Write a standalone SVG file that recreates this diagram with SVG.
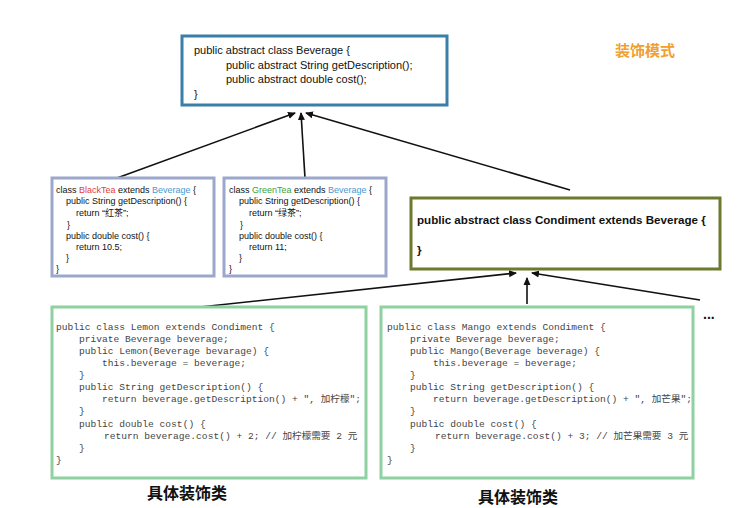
<svg xmlns="http://www.w3.org/2000/svg" width="752" height="508" viewBox="0 0 752 508">
<style>
.s{font-family:"Liberation Sans","Noto Sans CJK SC",sans-serif;fill:#111}
.m{font-family:"Liberation Mono","Noto Sans CJK SC",monospace;font-size:9.6px;fill:#444}
.b{fill:#fff;stroke-width:3}
.c{stroke:#111;stroke-width:1.6;fill:none;marker-end:url(#a)}
</style>
<defs><marker id="a" markerWidth="8" markerHeight="8" refX="7" refY="4" orient="auto" markerUnits="userSpaceOnUse"><path d="M0,0.5 L8,4 L0,7.5 Z" fill="#111"/></marker></defs>
<rect width="752" height="508" fill="#fff"/>
<g id="connectors">
<line class="c" x1="117" y1="178" x2="295" y2="113"/>
<line class="c" x1="305" y1="178" x2="301" y2="113"/>
<line class="c" x1="570" y1="190" x2="306" y2="113"/>
<line class="c" x1="200" y1="307" x2="516" y2="273"/>
<line class="c" x1="527" y1="304" x2="527" y2="278"/>
<line class="c" x1="700" y1="300" x2="532" y2="273"/>
</g>
<g id="beverage">
<rect class="b" x="182" y="36" width="265" height="69" stroke="#3a7fa8"/>
<text class="s" font-size="11"><tspan x="194" y="54">public abstract class Beverage {</tspan><tspan x="226" y="69">public abstract String getDescription();</tspan><tspan x="226" y="83">public abstract double cost();</tspan><tspan x="194" y="98">}</tspan></text>
</g>
<text id="title" x="615" y="56" font-size="15" font-weight="bold" font-family="Liberation Sans,Noto Sans CJK SC,sans-serif" fill="#f0a030">装饰模式</text>
<g id="blacktea">
<rect class="b" x="52" y="178" width="162" height="98" stroke="#9ba8cc"/>
<text class="s" font-size="9"><tspan x="56" y="193">class <tspan fill="#e04040">BlackTea</tspan> extends <tspan fill="#4a9ad0">Beverage</tspan> {</tspan><tspan x="66" y="204">public String getDescription() {</tspan><tspan x="76" y="216">return “红茶”;</tspan><tspan x="67" y="228">}</tspan><tspan x="66" y="239">public double cost() {</tspan><tspan x="76" y="250">return 10.5;</tspan><tspan x="66" y="261">}</tspan><tspan x="56" y="272">}</tspan></text>
</g>
<g id="greentea">
<rect class="b" x="224" y="178" width="162" height="98" stroke="#9ba8cc"/>
<text class="s" font-size="9"><tspan x="229" y="193">class <tspan fill="#40a040">GreenTea</tspan> extends <tspan fill="#4a9ad0">Beverage</tspan> {</tspan><tspan x="239" y="204">public String getDescription() {</tspan><tspan x="249" y="216">return “绿茶”;</tspan><tspan x="240" y="228">}</tspan><tspan x="239" y="239">public double cost() {</tspan><tspan x="249" y="250">return 11;</tspan><tspan x="239" y="261">}</tspan><tspan x="229" y="272">}</tspan></text>
</g>
<g id="condiment">
<rect class="b" x="411" y="198" width="309" height="71" stroke="#6b7a2e"/>
<text class="s" font-size="11.6" font-weight="bold"><tspan x="417" y="224">public abstract class Condiment extends Beverage {</tspan><tspan x="417" y="254">}</tspan></text>
</g>
<g id="lemon">
<rect class="b" x="52" y="307" width="314" height="171" stroke="#8fd1a0"/>
<text class="m"><tspan x="56" y="330">public class Lemon extends Condiment {</tspan><tspan x="79" y="342">private Beverage beverage;</tspan><tspan x="79" y="354">public Lemon(Beverage bevarage) {</tspan><tspan x="102" y="366">this.beverage = beverage;</tspan><tspan x="79" y="378">}</tspan><tspan x="79" y="390">public String getDescription() {</tspan><tspan x="102" y="402">return beverage.getDescription() + ", 加柠檬";</tspan><tspan x="79" y="414">}</tspan><tspan x="79" y="427">public double cost() {</tspan><tspan x="104" y="439">return beverage.cost() + 2; // 加柠檬需要 2 元</tspan><tspan x="79" y="451">}</tspan><tspan x="56" y="463">}</tspan></text>
</g>
<g id="mango">
<rect class="b" x="381" y="307" width="312" height="171" stroke="#8fd1a0"/>
<text class="m"><tspan x="387" y="330">public class Mango extends Condiment {</tspan><tspan x="410" y="342">private Beverage beverage;</tspan><tspan x="410" y="354">public Mango(Beverage beverage) {</tspan><tspan x="433" y="366">this.beverage = beverage;</tspan><tspan x="410" y="378">}</tspan><tspan x="410" y="390">public String getDescription() {</tspan><tspan x="433" y="402">return beverage.getDescription() + ", 加芒果";</tspan><tspan x="410" y="414">}</tspan><tspan x="410" y="427">public double cost() {</tspan><tspan x="435" y="439">return beverage.cost() + 3; // 加芒果需要 3 元</tspan><tspan x="410" y="451">}</tspan><tspan x="387" y="463">}</tspan></text>
</g>
<text class="s" x="703" y="319" font-size="14" font-weight="bold">...</text>
<text class="s" x="147" y="499" font-size="16" font-weight="bold">具体装饰类</text>
<text class="s" x="478" y="503" font-size="16" font-weight="bold">具体装饰类</text>
</svg>
